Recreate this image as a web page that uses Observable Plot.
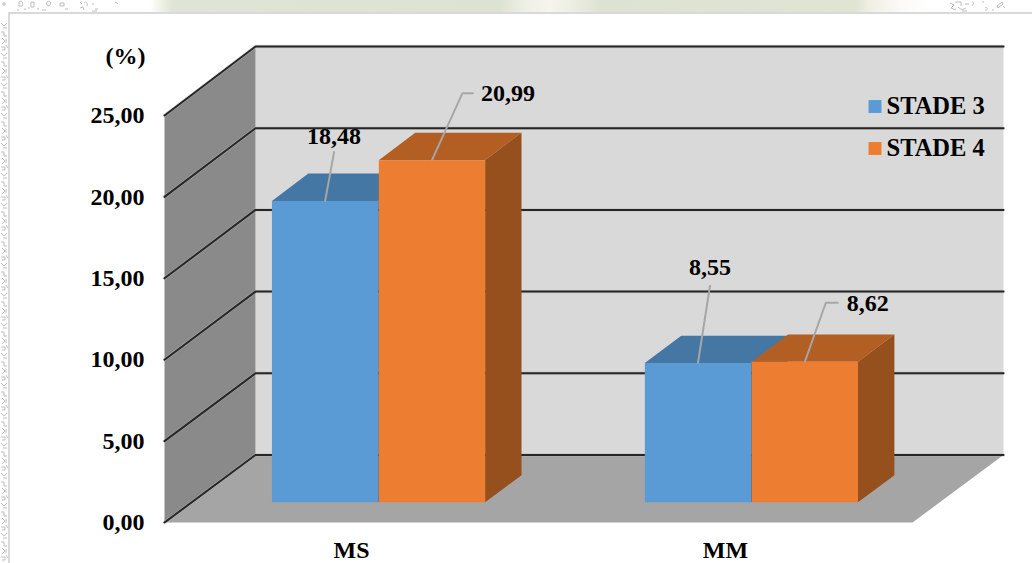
<!DOCTYPE html>
<html>
<head>
<meta charset="utf-8">
<script src="https://cdn.jsdelivr.net/npm/d3@7"></script>
<script src="https://cdn.jsdelivr.net/npm/@observablehq/plot@0.6"></script>
<style>
html,body{margin:0;padding:0;width:1032px;height:563px;overflow:hidden;background:#fff}
#strip{position:absolute;left:0;top:0;width:1032px;height:13px;
background:linear-gradient(90deg,#fff 0,#fff 150px,#f2f2e8 160px,#dfe5d6 172px,#dde3d2 500px,#eef0e6 525px,#f6f5ee 550px,#e6e9dc 585px,#dde3d2 600px,#dfe4d3 855px,#f0efe4 870px,#fbfaf6 900px,#fff 930px)}
#doodles{position:absolute;left:0;top:0;width:1032px;height:563px}
#card{position:absolute;left:8px;top:12px;width:1024px;height:551px;background:#fff;border-left:2px solid #d9d9d9;border-top:2px solid #d9d9d9;box-sizing:border-box}
#chart{position:absolute;left:0;top:0}
</style>
</head>
<body>
<div id="strip"></div>
<svg id="doodles" fill="none" stroke="#bdbdbd" stroke-width="1">
  <defs>
    <pattern id="dz" width="9" height="30" patternUnits="userSpaceOnUse">
      <path d="M1 2h3v4h3M2 8l3 3l-3 3M6 9v4M1 17h4v3h-3M6 15l2 3M1 23l3 3l3-3M3 28h4"/>
    </pattern>
  </defs>
  <rect x="0" y="22" width="8" height="541" fill="url(#dz)" stroke="none"/>
  <path d="M3 3h2v2h-2zM17 10h2M24 9h2M28 8h2M19 2c2-2 5 0 3 4h-3zM31 2h3v5h-3zM37 9h2M42 10h4M47 2c2-2 5 0 3 3c-2 2-4 0-3-3zM60 3h4v3h-4zM65 9h3M80 2l2 2M80 8l3-1l1 3M92 4h2M95 9h3M115 2l3 2M84 3c2-2 4 0 3 3M92 11h5"/>
  <path d="M950 3l4 2l-3 3l5 2M955 2h6v4M958 7l4 3l4-2M962 11h5M965 4h4M972 2c2 0 2 3 0 3M985 8c3-2 3 3 0 2M992 10h2M997 6l5-4l1 2l-5 4zM1003 6l2 2M982 2h2"/>
</svg>
<div id="card"></div>
<div id="chart"></div>
<script>
// Chart values
const categories = ["MS", "MM"];
const seriesNames = ["STADE 3", "STADE 4"];
const stade3 = [18.48, 8.55];
const stade4 = [20.99, 8.62];
const tickValues = [0, 5, 10, 15, 20, 25];
const unitLabel = "(%)";

// Colours per series: front, top, side
const faceColours = [
  ["#5b9bd5", "#4477a3", "#35608a"],
  ["#ed7d31", "#b35e22", "#95501d"]
];
// Leader-line bends and label anchors, in px from each bar's top-centre
const leaderBends = [
  [[[9, -49]], [[30.5, -67], [41, -67]]],
  [[[12, -77]], [[21, -59], [33, -59]]]
];
const labelOffsets = [
  [[9, -65], [76, -67]],
  [[12, -96], [63, -58]]
];
// Legend rows, px from the top-right corner of the front plane
const legendRows = [-9, 33];

// Oblique 3D set-up: how far the back wall is shifted from the front plane
const pxPerCat = 374, pxPerPct = 16.28;
const depthX = 91 / pxPerCat, depthY = 67.5 / pxPerPct, depthScale = 0.0037, catStep = 0.997;
const P = (cat, pct, depth) => ({x: cat + depth * depthX, y: pct * (1 + depth * depthScale) + depth * depthY});
const poly = (id, color, pts) => pts.map(([c, v, d]) => ({id, color, ...P(c, v, d)}));

const gapWidth = 1.5, barW = 1 / (2 + gapWidth), d0 = 0.3, d1 = 0.7;
const series = [stade3, stade4];

const faces = [];
const barTops = [];
categories.forEach((cat, i) => {
  series.forEach((vals, s) => {
    const v = vals[i];
    const a = i * catStep + (gapWidth / 2) * barW + s * barW, b = a + barW * 0.995;
    const [front, top, side] = faceColours[s];
    faces.push(...poly(`${i}${s}top`, top, [[a, v, d0], [b, v, d0], [b, v, d1], [a, v, d1]]));
    faces.push(...poly(`${i}${s}side`, side, [[b, 0, d0], [b, v, d0], [b, v, d1], [b, 0, d1]]));
    faces.push(...poly(`${i}${s}front`, front, [[a, 0, d0], [b, 0, d0], [b, v, d0], [a, v, d0]]));
    barTops.push({i, s, v, ...P((a + b) / 2, v, d0)});
  });
});

const nCat = categories.length, yMax = 25;
const walls = [
  ...poly("back", "#d9d9d9", [[0, 0, 1], [nCat, 0, 1], [nCat, yMax, 1], [0, yMax, 1]]),
  ...poly("left", "#8a8a8a", [[0, 0, 0], [0, 0, 1], [0, yMax, 1], [0, yMax, 0]]),
  ...poly("floor", "#a5a5a5", [[0, 0, 0], [nCat, 0, 0], [nCat, 0, 1], [0, 0, 1]])
];
const grid = tickValues.flatMap(t => poly(`g${t}`, "#262626", [[0, t, 0], [0, t, 1], [nCat, t, 1]]));

const leaders = barTops.flatMap(b => {
  const pts = [[0, 0], ...leaderBends[b.i][b.s]];
  return pts.map(([dx, dy]) => ({id: `${b.i}${b.s}`, x: b.x + dx / pxPerCat, y: b.y - dy / pxPerPct}));
});
const labels = barTops.map(b => {
  const [dx, dy] = labelOffsets[b.i][b.s];
  return {x: b.x + dx / pxPerCat, y: b.y - dy / pxPerPct, t: d3.format(".2f")(b.v).replace(".", ",")};
});

const font = {fontFamily: "Liberation Serif", fontWeight: "bold", fill: "#000"};
const legend = seriesNames.map((name, i) => ({name, colour: faceColours[i][0], row: legendRows[i]}));

const chart = Plot.plot({
  width: 1032, height: 563,
  marginLeft: 164, marginRight: 120, marginTop: 115, marginBottom: 41,
  x: {domain: [0, nCat]},
  y: {domain: [0, yMax]},
  style: {background: "transparent", overflow: "visible"},
  marks: [
    Plot.line(walls, {x: "x", y: "y", z: "id", fill: "color", stroke: null}),
    Plot.line(grid, {x: "x", y: "y", z: "id", stroke: "#b8b8b8", strokeWidth: 3.4, strokeOpacity: 0.5}),
    Plot.line(grid, {x: "x", y: "y", z: "id", stroke: "color", strokeWidth: 2}),
    Plot.line(faces, {x: "x", y: "y", z: "id", fill: "color", stroke: null}),
    Plot.line(leaders, {x: "x", y: "y", z: "id", stroke: "#a6a6a6", strokeWidth: 2}),
    Plot.text(labels, {x: "x", y: "y", text: "t", fontSize: 24, ...font}),
    Plot.axisY({ticks: tickValues, tickSize: 0, tickPadding: 20, label: null, marginLeft: 164,
      tickFormat: d => d3.format(".2f")(d).replace(".", ","), fontSize: 24, ...font}),
    Plot.axisX({ticks: categories.map((c, i) => i + 0.5), tickSize: 0, tickPadding: 18, label: null,
      tickFormat: d => categories[Math.floor(d)], fontSize: 24, ...font}),
    Plot.text([unitLabel], {x: 0, y: yMax, dx: -39, dy: -59, text: d => d, fontSize: 24, ...font}),
    ...legend.flatMap(l => [
      Plot.dot([l], {frameAnchor: "top-right", dx: -37.5, dy: l.row, symbol: "square", r: 7.3, fill: "colour", stroke: null}),
      Plot.text([l], {frameAnchor: "top-right", dx: -26, dy: l.row, text: "name", textAnchor: "start",
        lineAnchor: "middle", fontSize: 24.5, ...font})
    ])
  ]
});
document.getElementById("chart").appendChild(chart);
</script>
</body>
</html>
